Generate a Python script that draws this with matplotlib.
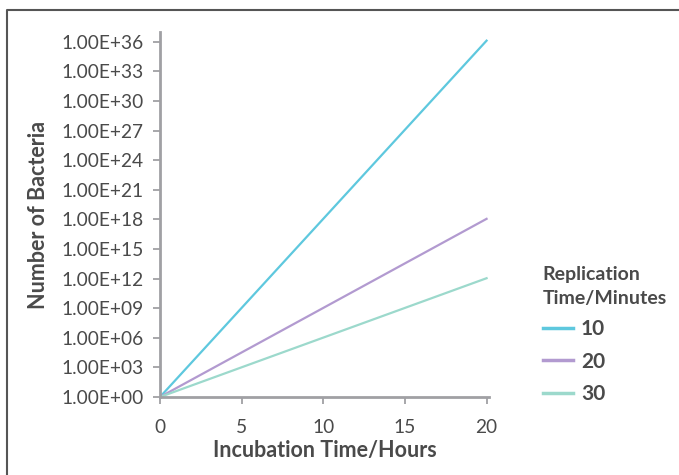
import numpy as np
import matplotlib.pyplot as plt
from matplotlib.lines import Line2D

plt.rcParams['font.family'] = ['Lato', 'DejaVu Sans']

# Incubation time (hours) and bacteria counts
hours = [0, 20]
rep_times = ['10', '20', '30']
count_10 = [1, 1.33e36]
count_20 = [1, 1.15e18]
count_30 = [1, 1.10e12]
colors = ['#5ec8de', '#b29ad0', '#9cd9cc']

fig = plt.figure(figsize=(6.79, 4.75), dpi=100)
ax = fig.add_axes([0.2356, 0.1642, 0.4846, 0.7684])

for vals, lab, col in zip([count_10, count_20, count_30], rep_times, colors):
    ax.plot(hours, vals, color=col, lw=1.6, label=lab)

ax.set_yscale('log')
ax.set_ylim(1, 1e37)
ax.set_xlim(0, 20.15)
yt = [10.0**k for k in range(0, 37, 3)]
ax.set_yticks(yt)
ax.set_yticklabels([f'1.00E+{k:02d}' for k in range(0, 37, 3)])
ax.minorticks_off()
ax.set_xticks([0, 5, 10, 15, 20])

for s in ['top', 'right']:
    ax.spines[s].set_visible(False)
for s in ['left', 'bottom']:
    ax.spines[s].set_color('#a0a0a4')
    ax.spines[s].set_linewidth(2)
ax.tick_params(colors='#a0a0a4', width=1.3, length=5, labelcolor='#4a4a4a', labelsize=13.8)
ax.tick_params(axis='y', pad=7)
ax.tick_params(axis='x', pad=11)

ax.set_xlabel('Incubation Time/Hours', fontsize=15.5, fontweight='bold', color='#4a4a4a', labelpad=3)
ax.set_ylabel('Number of Bacteria', fontsize=15.5, fontweight='bold', color='#4a4a4a', labelpad=9)

leg = fig.legend(loc='upper left', bbox_to_anchor=(0.799, 0.441), frameon=False,
                 title='Replication\nTime/Minutes', alignment='left',
                 handlelength=1.45, handletextpad=0.4, labelspacing=0.6,
                 borderaxespad=0, borderpad=0,
                 prop={'size': 15, 'weight': 'bold'})
leg.get_title().set_fontweight('bold')
leg.get_title().set_fontsize(14)
leg.get_title().set_color('#4a4a4a')
leg.get_title().set_linespacing(1.5)
for t in leg.get_texts():
    t.set_color('#4a4a4a')
for h in leg.legend_handles:
    h.set_linewidth(2.5)

# frame edge on the left and top of the picture
fig.add_artist(Line2D([7 / 679, 7 / 679, 1], [0, 1 - 10 / 475, 1 - 10 / 475],
                      transform=fig.transFigure, color='#555555', lw=1.5))

fig.savefig('out.png', dpi=100)
